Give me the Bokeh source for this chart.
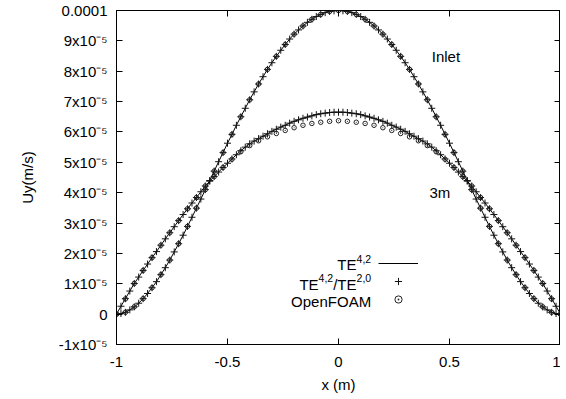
import numpy as np
from bokeh.plotting import figure
from bokeh.models import (Range1d, FixedTicker, LinearAxis, CustomJSTickFormatter,
                          Label, Legend, LegendItem)
from bokeh.embed import file_html
from bokeh.resources import INLINE

# ---------------- data (Uy in units of 1e-5 m/s) ----------------
x_te = np.linspace(-1.0, 1.0, 101)   # TE sample positions (step 0.02)
x_of = np.linspace(-1.0, 1.0, 51)    # OpenFOAM sample positions (step 0.04)

te42_inlet = [0.00, 0.02, 0.06, 0.14, 0.24, 0.36, 0.51, 0.68, 0.87, 1.07,
              1.30, 1.53, 1.78, 2.05, 2.32, 2.60, 2.89, 3.19, 3.49, 3.79,
              4.10, 4.40, 4.71, 5.02, 5.32, 5.63, 5.92, 6.22, 6.50, 6.78,
              7.06, 7.32, 7.58, 7.82, 8.06, 8.28, 8.49, 8.69, 8.88, 9.06,
              9.22, 9.36, 9.49, 9.61, 9.71, 9.80, 9.87, 9.93, 9.97, 9.99,
              10.00,
              9.99, 9.97, 9.93, 9.87, 9.80, 9.71, 9.61, 9.49, 9.36, 9.22,
              9.06, 8.88, 8.69, 8.49, 8.28, 8.06, 7.82, 7.58, 7.32, 7.06,
              6.78, 6.50, 6.22, 5.92, 5.63, 5.32, 5.02, 4.71, 4.40, 4.10,
              3.79, 3.49, 3.19, 2.89, 2.60, 2.32, 2.05, 1.78, 1.53, 1.30,
              1.07, 0.87, 0.68, 0.51, 0.36, 0.24, 0.14, 0.06, 0.02, 0.00]

te42_3m = [0.00, 0.26, 0.51, 0.76, 1.01, 1.22, 1.44, 1.65, 1.86, 2.06,
           2.27, 2.48, 2.68, 2.88, 3.08, 3.28, 3.47, 3.66, 3.84, 4.03,
           4.22, 4.38, 4.53, 4.68, 4.83, 4.97, 5.11, 5.25, 5.38, 5.50,
           5.61, 5.70, 5.78, 5.86, 5.94, 6.02, 6.09, 6.16, 6.22, 6.29,
           6.35, 6.40, 6.45, 6.49, 6.53, 6.57, 6.60, 6.62, 6.64, 6.65,
           6.65,
           6.65, 6.64, 6.62, 6.60, 6.57, 6.53, 6.49, 6.45, 6.40, 6.35,
           6.29, 6.22, 6.16, 6.09, 6.02, 5.94, 5.86, 5.78, 5.70, 5.61,
           5.50, 5.38, 5.25, 5.11, 4.97, 4.83, 4.68, 4.53, 4.38, 4.22,
           4.03, 3.84, 3.66, 3.47, 3.28, 3.08, 2.88, 2.68, 2.48, 2.27,
           2.06, 1.86, 1.65, 1.44, 1.22, 1.01, 0.76, 0.51, 0.26, 0.00]

te4220_inlet = list(te42_inlet)
te4220_3m = list(te42_3m)

of_inlet = [0.00, 0.06, 0.24, 0.51, 0.87, 1.30, 1.78, 2.32, 2.89, 3.49,
            4.10, 4.71, 5.32, 5.92, 6.50, 7.06, 7.58, 8.06, 8.49, 8.88,
            9.22, 9.49, 9.71, 9.87, 9.97,
            10.00,
            9.97, 9.87, 9.71, 9.49, 9.22, 8.88, 8.49, 8.06, 7.58, 7.06,
            6.50, 5.92, 5.32, 4.71, 4.10, 3.49, 2.89, 2.32, 1.78, 1.30,
            0.87, 0.51, 0.24, 0.06, 0.00]

of_3m = [0.00, 0.50, 1.01, 1.44, 1.86, 2.27, 2.68, 3.08, 3.47, 3.84,
         4.22, 4.53, 4.83, 5.10, 5.35, 5.55, 5.71, 5.84, 5.95, 6.05,
         6.14, 6.22, 6.28, 6.32, 6.35,
         6.37,
         6.35, 6.32, 6.28, 6.22, 6.14, 6.05, 5.95, 5.84, 5.71, 5.55,
         5.35, 5.10, 4.83, 4.53, 4.22, 3.84, 3.47, 3.08, 2.68, 2.27,
         1.86, 1.44, 1.01, 0.50, 0.00]

x_ticks = [-1, -0.5, 0, 0.5, 1]
y_ticks = [-1, 0, 1, 2, 3, 4, 5, 6, 7, 8, 9, 10]
y_tick_labels = {-1: "-1x10\u207b\u2075", 0: "0", 1: "1x10\u207b\u2075", 2: "2x10\u207b\u2075",
                 3: "3x10\u207b\u2075", 4: "4x10\u207b\u2075", 5: "5x10\u207b\u2075",
                 6: "6x10\u207b\u2075", 7: "7x10\u207b\u2075", 8: "8x10\u207b\u2075",
                 9: "9x10\u207b\u2075", 10: "0.0001"}

FONT = "Liberation Sans"
FS = "15px"

p = figure(frame_width=444, frame_height=334, x_range=Range1d(-1, 1), y_range=Range1d(-1, 10),
           output_backend="svg", toolbar_location=None,
           min_border_left=116, min_border_right=0, min_border_top=10, min_border_bottom=50,
           x_axis_label="x (m)", y_axis_label="Uy(m/s)")
p.grid.visible = False
p.outline_line_color = "black"
p.outline_line_width = 1
p.outline_line_alpha = 1

for ax in p.xaxis + p.yaxis:
    ax.major_tick_in = 6
    ax.major_tick_out = 0
    ax.minor_tick_line_color = None
    ax.axis_line_color = "black"
    ax.major_tick_line_color = "black"
    ax.major_label_text_font = FONT
    ax.major_label_text_font_size = FS
    ax.major_label_text_color = "black"
    ax.axis_label_text_font = FONT
    ax.axis_label_text_font_size = FS
    ax.axis_label_text_font_style = "normal"
    ax.axis_label_text_color = "black"

p.xaxis.ticker = FixedTicker(ticks=x_ticks)
p.xaxis.formatter = CustomJSTickFormatter(code="return tick.toString();")
p.xaxis.major_label_standoff = 12
p.xaxis.axis_label_standoff = 6
p.yaxis.ticker = FixedTicker(ticks=y_ticks)
p.yaxis.major_label_overrides = y_tick_labels
p.yaxis.major_label_standoff = 9
p.yaxis.axis_label_standoff = 20

# mirrored ticks on top and right
top = LinearAxis(ticker=FixedTicker(ticks=x_ticks),
                 formatter=CustomJSTickFormatter(code="return '';"))
right = LinearAxis(ticker=FixedTicker(ticks=y_ticks),
                   formatter=CustomJSTickFormatter(code="return '';"))
for ax in (top, right):
    ax.major_tick_in = 6
    ax.major_tick_out = 0
    ax.minor_tick_line_color = None
    ax.axis_line_color = None
    ax.major_tick_line_color = "black"
    ax.major_label_standoff = 0
    ax.major_label_text_font_size = "0px"
p.add_layout(top, "above")
p.add_layout(right, "right")

# series
r_line = p.line(x_te, te42_inlet, line_color="black", line_width=1)
p.line(x_te, te42_3m, line_color="black", line_width=1)
r_plus = p.scatter(x_te, te4220_inlet, marker="cross", size=7, line_color="#111111", line_width=1)
p.scatter(x_te, te4220_3m, marker="cross", size=7, line_color="#111111", line_width=1)
r_of = p.scatter(x_of, of_inlet, marker="circle_dot", size=4.5, line_color="#222222",
                 fill_color=None, line_width=1)
p.scatter(x_of, of_3m, marker="circle_dot", size=4.5, line_color="#222222",
          fill_color=None, line_width=1)

# legend keys (labels drawn separately to the left, gnuplot style)
legend = Legend(items=[LegendItem(label=" ", renderers=[r_line]),
                       LegendItem(label=" ", renderers=[r_plus]),
                       LegendItem(label=" ", renderers=[r_of])],
                location=(262, 36), glyph_width=40, glyph_height=18, label_height=18,
                label_width=0, label_standoff=0, spacing=0, padding=0, margin=0,
                border_line_color=None, background_fill_alpha=0,
                label_text_font_size="1px")
p.add_layout(legend)

# legend texts with superscripts
W = {'T': 0.611, 'E': 0.667, '/': 0.278, ',': 0.278, '0': 0.556, '2': 0.556, '4': 0.556}
MAIN, SUP = 15.0, 10.5

def width(txt, fs):
    return sum(W.get(c, 0.556) for c in txt) * fs

def rich(pieces, x, y):
    off = 0.0
    for txt, sup in reversed(pieces):
        fs = SUP if sup else MAIN
        p.add_layout(Label(x=x, y=y, x_offset=-off, y_offset=6 if sup else 0, text=txt,
                           text_align="right", text_baseline="alphabetic",
                           text_font=FONT, text_font_size=f"{fs}px", text_color="black"))
        off += width(txt, fs)

LX = 0.147
rich([("TE", False), ("4,2", True)], LX, 1.62)
rich([("TE", False), ("4,2", True), ("/TE", False), ("2,0", True)], LX, 0.98)
rich([("OpenFOAM", False)], LX, 0.42)

p.add_layout(Label(x=0.42, y=8.5, text="Inlet", text_baseline="middle",
                   text_font=FONT, text_font_size=FS, text_color="black"))
p.add_layout(Label(x=0.41, y=4.0, text="3m", text_baseline="middle",
                   text_font=FONT, text_font_size=FS, text_color="black"))

open("out.html", "w").write(file_html(p, INLINE))
